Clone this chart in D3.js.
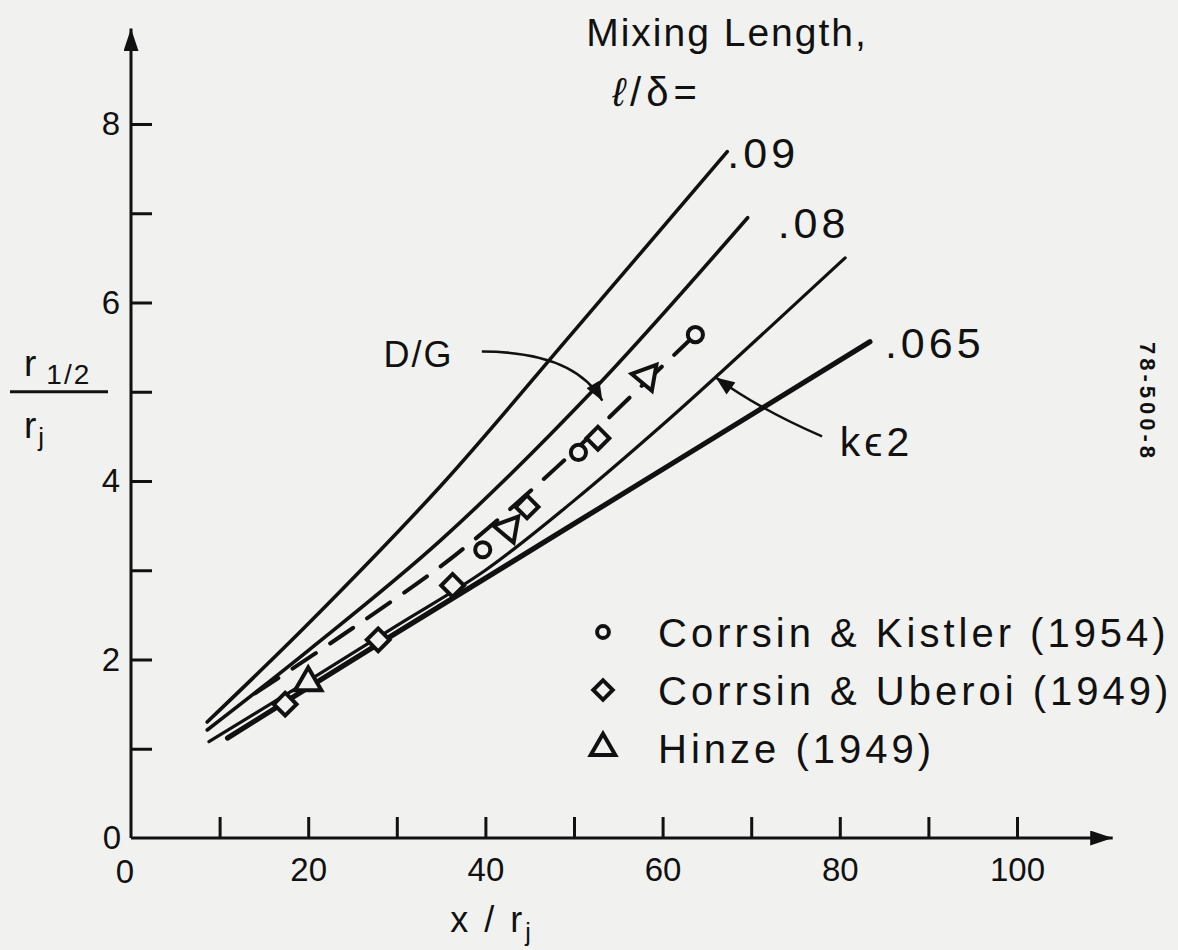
<!DOCTYPE html>
<html>
<head>
<meta charset="utf-8">
<script src="https://cdn.jsdelivr.net/npm/d3@7"></script>
<style>
  html, body { margin: 0; padding: 0; background: #f1f1f0; }
  svg { display: block; }
  text { font-family: 'Liberation Sans', Arial, sans-serif; fill: #111; }
</style>
</head>
<body>
<svg id="chart" width="1178" height="950"></svg>
<script>
// Mixing length curves, l/delta = .09, .08, k-eps 2 and .065 (x/rj, r1/2/rj)
var curve09 = [[8.6, 1.30], [20, 2.40], [35, 3.95], [50, 5.68], [67.3, 7.69]];
var curve08 = [[8.6, 1.21], [20, 2.10], [35, 3.34], [52, 5.0], [69.6, 6.95]];
var curveKe2 = [[8.8, 1.08], [20, 1.76], [30, 2.38], [40, 3.0], [50, 3.78], [60, 4.63], [66.5, 5.21], [80.6, 6.50]];
var curve065 = [[10.9, 1.12], [28, 2.18], [50, 3.52], [83.4, 5.56]];
var curveDG = [[14, 1.62], [25, 2.35], [36.6, 3.17], [48, 4.15], [58, 5.1], [63.7, 5.64]];

// Measurements
var kistler = [[39.7, 3.23], [50.5, 4.32], [63.7, 5.64]];
var uberoi = [[17.4, 1.50], [27.9, 2.22], [36.3, 2.83], [44.7, 3.71], [52.7, 4.48]];
var hinze = [[20, 1.74], [42.6, 3.47], [58.2, 5.17]];

var xTicks = [0, 10, 20, 30, 40, 50, 60, 70, 80, 90, 100];
var yTicks = [0, 1, 2, 3, 4, 5, 6, 7, 8];
var curveLabels = ['.09', '.08', '.065'];
var legendNames = ['Corrsin & Kistler (1954)', 'Corrsin & Uberoi (1949)', 'Hinze (1949)'];

var ink = '#111';
var paper = '#f1f1f0';
var svg = d3.select('#chart');

var x = d3.scaleLinear().domain([0, 100]).range([131, 1017]);
var y = d3.scaleLinear().domain([0, 8]).range([838, 124]);

// Axes: ticks point inwards, labels only on even values.
var xAxis = svg.append('g')
    .attr('transform', 'translate(0,' + y(0) + ')')
    .call(d3.axisBottom(x).tickValues(xTicks.slice(1)).tickSizeInner(-21).tickSizeOuter(0)
      .tickPadding(20).tickFormat(function(d) { return d % 20 === 0 ? d : ''; }));
var yAxis = svg.append('g')
    .attr('transform', 'translate(' + x(0) + ',0)')
    .call(d3.axisLeft(y).tickValues(yTicks.slice(1)).tickSizeInner(-21).tickSizeOuter(0)
      .tickPadding(11).tickFormat(function(d) { return d % 2 === 0 ? d : ''; }));
[xAxis, yAxis].forEach(function(g) {
  g.select('.domain').remove();
  g.selectAll('line').attr('stroke', ink).attr('stroke-width', 3);
  g.selectAll('text').style('font-size', '33px').attr('fill', ink)
      .style('font-family', "'Liberation Sans', Arial, sans-serif");
});
// zeros sit a bit apart from the origin
svg.append('text').attr('x', x(0) - 6).attr('y', y(0) + 45).attr('text-anchor', 'middle')
    .style('font-size', '33px').text('0');
svg.append('text').attr('x', x(0) - 10).attr('y', y(0) + 11).attr('text-anchor', 'end')
    .style('font-size', '33px').text('0');

// Axis lines with arrowheads.
var defs = svg.append('defs');
defs.append('marker')
    .attr('id', 'axisArrow')
    .attr('viewBox', '0 0 12 8')
    .attr('refX', 12).attr('refY', 4)
    .attr('markerWidth', 12).attr('markerHeight', 5)
    .attr('markerUnits', 'strokeWidth')
    .attr('orient', 'auto')
  .append('path').attr('d', 'M0,0L12,4L0,8Z').attr('fill', ink);
defs.append('marker')
    .attr('id', 'noteArrow')
    .attr('viewBox', '0 0 10 8')
    .attr('refX', 10).attr('refY', 4)
    .attr('markerWidth', 8).attr('markerHeight', 6)
    .attr('markerUnits', 'strokeWidth')
    .attr('orient', 'auto')
  .append('path').attr('d', 'M0,0L10,4L0,8Z').attr('fill', ink);

svg.append('line')
    .attr('x1', x(0)).attr('y1', y(0)).attr('x2', x(110.8)).attr('y2', y(0))
    .attr('stroke', ink).attr('stroke-width', 3).attr('marker-end', 'url(#axisArrow)');
svg.append('line')
    .attr('x1', x(0)).attr('y1', y(0)).attr('x2', x(0)).attr('y2', y(9.07))
    .attr('stroke', ink).attr('stroke-width', 3).attr('marker-end', 'url(#axisArrow)');

// Curves.
var line = d3.line()
    .x(function(d) { return x(d[0]); })
    .y(function(d) { return y(d[1]); })
    .curve(d3.curveCatmullRom.alpha(0.5));

var curves = [
  {data: curve09, width: 3.6},
  {data: curve08, width: 3.6},
  {data: curveKe2, width: 3.2},
  {data: curve065, width: 5.2}
];
svg.selectAll('.curve')
    .data(curves)
  .enter().append('path')
    .attr('class', 'curve')
    .attr('d', function(d) { return line(d.data); })
    .attr('fill', 'none')
    .attr('stroke', ink)
    .attr('stroke-width', function(d) { return d.width; })
    .attr('stroke-linecap', 'round');

svg.append('path')
    .attr('d', line(curveDG))
    .attr('fill', 'none')
    .attr('stroke', ink)
    .attr('stroke-width', 4)
    .attr('stroke-dasharray', '28,17')
    .attr('stroke-linecap', 'round');

// Curve end labels.
var labelEnds = [curve09, curve08, curve065];
var labelShift = [[0, 16], [30, 20], [15, 16]];
svg.selectAll('.curve-label')
    .data(curveLabels)
  .enter().append('text')
    .attr('class', 'curve-label')
    .attr('x', function(d, i) { var p = labelEnds[i][labelEnds[i].length - 1]; return x(p[0]) + labelShift[i][0]; })
    .attr('y', function(d, i) { var p = labelEnds[i][labelEnds[i].length - 1]; return y(p[1]) + labelShift[i][1]; })
    .style('font-size', '43px')
    .style('letter-spacing', '4px')
    .text(function(d) { return d; });

// Markers.
var markerStyle = function(sel) {
  sel.attr('fill', paper).attr('stroke', ink).attr('stroke-width', 4);
};
var circleSym = d3.symbol().type(d3.symbolCircle).size(180);
var diamondSym = d3.symbol().type(d3.symbolSquare).size(260);
var triangleSym = d3.symbol().type(d3.symbolTriangle).size(300);

svg.selectAll('.kistler')
    .data(kistler)
  .enter().append('path')
    .attr('class', 'kistler')
    .attr('d', circleSym)
    .attr('transform', function(d) { return 'translate(' + x(d[0]) + ',' + y(d[1]) + ')'; })
    .call(markerStyle);
svg.selectAll('.uberoi')
    .data(uberoi)
  .enter().append('path')
    .attr('class', 'uberoi')
    .attr('d', diamondSym)
    .attr('transform', function(d) { return 'translate(' + x(d[0]) + ',' + y(d[1]) + ') rotate(45)'; })
    .call(markerStyle);
// the hand-drawn triangles along the D/G line are tipped over
svg.selectAll('.hinze')
    .data(hinze)
  .enter().append('path')
    .attr('class', 'hinze')
    .attr('d', triangleSym)
    .attr('transform', function(d, i) {
      return 'translate(' + x(d[0]) + ',' + y(d[1]) + ') rotate(' + (i === 0 ? 0 : -80) + ')';
    })
    .call(markerStyle);

// Legend.
var legend = svg.append('g').attr('transform', 'translate(603,632)');
var legendSyms = [d3.symbol().type(d3.symbolCircle).size(110), d3.symbol().type(d3.symbolSquare).size(190), d3.symbol().type(d3.symbolTriangle).size(260)];
var rows = legend.selectAll('.row')
    .data(legendNames)
  .enter().append('g')
    .attr('class', 'row')
    .attr('transform', function(d, i) { return 'translate(0,' + (i * 58) + ')'; });
rows.append('path')
    .attr('d', function(d, i) { return legendSyms[i](); })
    .attr('transform', function(d, i) { return i === 1 ? 'rotate(45)' : ''; })
    .call(markerStyle);
rows.append('text')
    .attr('x', 55)
    .attr('y', 15)
    .style('font-size', '40px')
    .style('letter-spacing', '4px')
    .text(function(d) { return d; });

// Title.
svg.append('text')
    .attr('x', 727).attr('y', 46).attr('text-anchor', 'middle')
    .style('font-size', '39px').style('letter-spacing', '2px')
    .text('Mixing Length,');
svg.append('text')
    .attr('x', 657).attr('y', 106).attr('text-anchor', 'middle')
    .style('font-size', '40px').style('letter-spacing', '5px')
    .html('<tspan font-style="italic">ℓ</tspan>/δ=');

// Annotations: D/G and k-eps 2 with curved arrows.
svg.append('text')
    .attr('x', x(28.5)).attr('y', y(5.28))
    .style('font-size', '36px').style('letter-spacing', '2px')
    .text('D/G');
svg.append('path')
    .attr('d', 'M' + x(39.6) + ',' + y(5.45) + 'Q' + x(50) + ',' + y(5.45) + ' ' + x(53.2) + ',' + y(4.9))
    .attr('fill', 'none').attr('stroke', ink).attr('stroke-width', 2.5)
    .attr('marker-end', 'url(#noteArrow)');

svg.append('text')
    .attr('x', x(80)).attr('y', y(4.28))
    .style('font-size', '41px').style('letter-spacing', '4px')
    .text('kϵ2');
svg.append('path')
    .attr('d', 'M' + x(78) + ',' + y(4.5) + 'Q' + x(71) + ',' + y(4.8) + ' ' + x(66) + ',' + y(5.16))
    .attr('fill', 'none').attr('stroke', ink).attr('stroke-width', 2.5)
    .attr('marker-end', 'url(#noteArrow)');

// Axis titles.
svg.append('text')
    .attr('x', 492).attr('y', 932).attr('text-anchor', 'middle')
    .style('font-size', '36px').style('letter-spacing', '3px')
    .html('x / r<tspan dy="9" font-size="25px">j</tspan>');

var yTitle = svg.append('g').attr('transform', 'translate(0,' + y(5) + ')');
yTitle.append('line')
    .attr('x1', 10).attr('x2', 108).attr('y1', 0).attr('y2', 0)
    .attr('stroke', ink).attr('stroke-width', 3);
yTitle.append('text')
    .attr('x', 24).attr('y', -16)
    .style('font-size', '37px').style('letter-spacing', '2px')
    .html('r<tspan dx="8" dy="8" font-size="28px">1/2</tspan>');
yTitle.append('text')
    .attr('x', 24).attr('y', 46)
    .style('font-size', '37px')
    .html('r<tspan dx="2" dy="8" font-size="26px">j</tspan>');

// Figure number on the right margin.
svg.append('text')
    .attr('transform', 'translate(1140,342) rotate(90)')
    .style('font-size', '22px').style('font-weight', 'bold').style('letter-spacing', '4px')
    .text('78-500-8');
</script>
</body>
</html>
